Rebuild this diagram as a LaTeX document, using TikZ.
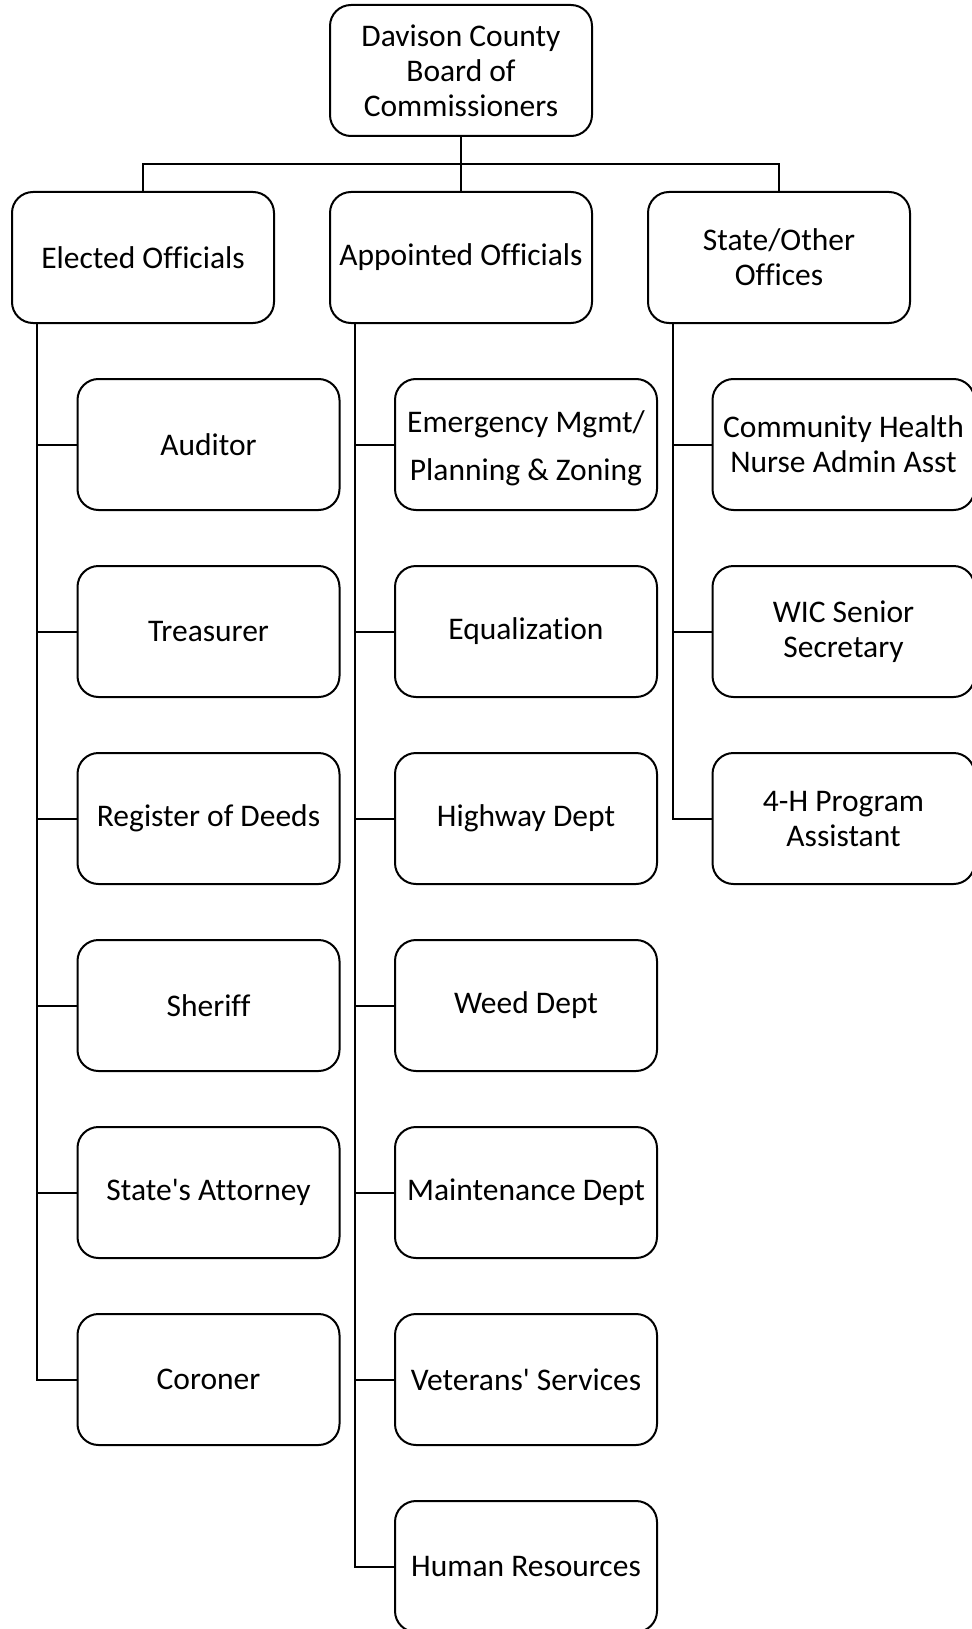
\documentclass[tikz,border=0pt]{standalone}
\usepackage{fontspec}
\setmainfont{Carlito}[Ligatures={TeXOff,CommonOff}]
\begin{document}
\begin{tikzpicture}[x=1pt,y=-1pt,
  box/.style={draw=black, line width=2pt, rounded corners=21pt, fill=white,
    minimum width=262pt, minimum height=131pt, inner sep=0pt, align=center,
    font=\fontsize{31.5}{35}\selectfont},
  conn/.style={draw=black, line width=2pt}]
\useasboundingbox (0,0) rectangle (971,1629);
% top
\node[box] (top) at (461,70.5) {Davison County\\Board of\\Commissioners};
% level 2
\node[box] (el) at (143,257.5) {Elected Officials};
\node[box] (ap) at (461,257.5) {Appointed Officials};
\node[box] (st) at (779,257.5) {State/Other\\Offices};
% elected
\node[box] (aud) at (208.5,444.5) {Auditor};
\node[box] (tre) at (208.5,631.5) {Treasurer};
\node[box] (reg) at (208.5,818.5) {Register of Deeds};
\node[box] (she) at (208.5,1005.5) {Sheriff};
\node[box] (sat) at (208.5,1192.5) {State's At\kern0pt t\kern0pt orney};
\node[box] (cor) at (208.5,1379.5) {Coroner};
% appointed
\node[box] (emg) at (526,444.5) {\raisebox{-5pt}[\height][\depth]{\begin{tabular}{@{}c@{}}Emergency Mgmt/\\[13pt]Planning \& Zoning\end{tabular}}};
\node[box] (equ) at (526,631.5) {Equalizat\kern0pt ion};
\node[box] (hwy) at (526,818.5) {Highway Dept};
\node[box] (wee) at (526,1005.5) {Weed Dept};
\node[box] (mai) at (526,1192.5) {Maintenance Dept};
\node[box] (vet) at (526,1379.5) {Veterans' Services};
\node[box] (hr) at (526,1566.5) {Human Resources};
% state/other
\node[box] (chn) at (843.5,444.5) {Community Health\\Nurse Admin Asst};
\node[box] (wic) at (843.5,631.5) {WIC Senior\\Secretary};
\node[box] (fh) at (843.5,818.5) {4-H Program\\Assistant};
% top connectors
\coordinate (bus) at (461,164);
\draw[conn] (top.south) -- (ap.north);
\draw[conn] (el.north) |- (bus) -| (st.north);
% spines
\coordinate (es) at (37.4,323.5);
\coordinate (as) at (355.4,323.5);
\coordinate (ss) at (673.4,323.5);
\draw[conn] (es) |- (cor.west);
\foreach \n in {aud,tre,reg,she,sat} \draw[conn] (\n.west) -- (\n.west -| es);
\draw[conn] (as) |- (hr.west);
\foreach \n in {emg,equ,hwy,wee,mai,vet} \draw[conn] (\n.west) -- (\n.west -| as);
\draw[conn] (ss) |- (fh.west);
\foreach \n in {chn,wic} \draw[conn] (\n.west) -- (\n.west -| ss);
\end{tikzpicture}
\end{document}
